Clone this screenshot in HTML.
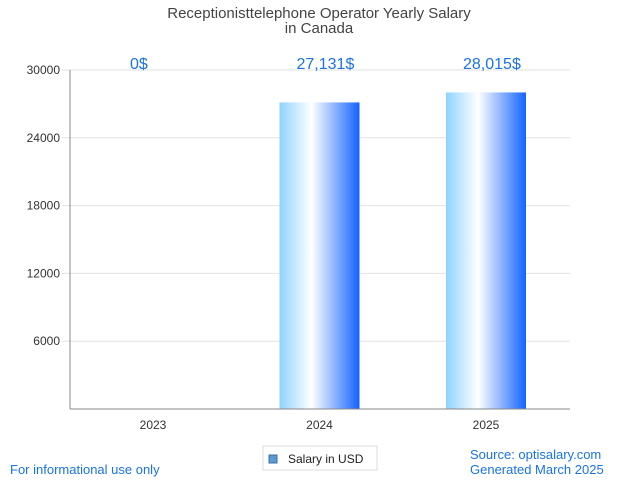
<!DOCTYPE html>
<html><head><meta charset="utf-8"><style>
body{margin:0;background:#fff;font-family:"Liberation Sans",sans-serif}
</style></head><body>
<svg width="639" height="479" viewBox="0 0 639 479">
<defs>
<linearGradient id="g" x1="0" x2="1" y1="0" y2="0">
<stop offset="0" stop-color="#8fd3ff"/>
<stop offset="0.4" stop-color="#ffffff"/>
<stop offset="1" stop-color="#1464ff"/>
</linearGradient>
</defs>
<text x="319" y="18" text-anchor="middle" font-size="15" fill="#444">Receptionisttelephone Operator Yearly Salary</text>
<text x="319" y="33" text-anchor="middle" font-size="15" fill="#444">in Canada</text>
<g id="grid"></g>
<g id="bars"></g>
<line x1="70" y1="70" x2="70" y2="409" stroke="#888"/>
<line x1="70" y1="409" x2="570" y2="409" stroke="#888"/>
<g>
<rect x="263" y="446" width="114" height="24" fill="#fff" stroke="#ddd"/>
<rect x="269" y="455" width="8" height="8" fill="#5b9bd5" stroke="#3a6fa0"/>
<text x="288" y="463" font-size="12" fill="#222">Salary in USD</text>
</g>
<text x="10" y="474" font-size="13" fill="#1a73e8">For informational use only</text>
<text x="470" y="459" font-size="13" fill="#1a73e8">Source: optisalary.com</text>
<text x="470" y="474" font-size="13" fill="#1a73e8">Generated March 2025</text>
</svg>
<script>
const categories=["2023","2024","2025"];
const values=[0,27131,28015];
const valueLabels=["0$","27,131$","28,015$"];
const yTicks=[6000,12000,18000,24000,30000];
const NS="http://www.w3.org/2000/svg";
const y=v=>409-v/30000*339;
const x=i=>153+i*166.5;
const grid=document.getElementById('grid'),bars=document.getElementById('bars');
function mk(t,a,p){const e=document.createElementNS(NS,t);for(const k in a)e.setAttribute(k,a[k]);p.appendChild(e);return e;}
yTicks.forEach(t=>{
 const l=mk('line',{x1:62,x2:570,y1:y(t),y2:y(t),stroke:'#e2e2e2'},grid);
 
 
 const tx=mk('text',{x:60,y:y(t)+4,'text-anchor':'end','font-size':12,fill:'#333'},grid);
 tx.textContent=t;
 
 
});
categories.forEach((c,i)=>{
 const r=mk('rect',{x:x(i)-40,y:y(values[i]),width:80,height:409-y(values[i]),fill:'url(#g)'},bars);
 
 
 const t=mk('text',{x:x(i),y:429,'text-anchor':'middle','font-size':12,fill:'#333'},bars);
 t.textContent=c;
 
 
 const v=mk('text',{x:x(i)-23,y:69,'font-size':16,fill:'#1a73e8'},bars);
 v.textContent=valueLabels[i];
 
 
});
</script>
</body></html>
